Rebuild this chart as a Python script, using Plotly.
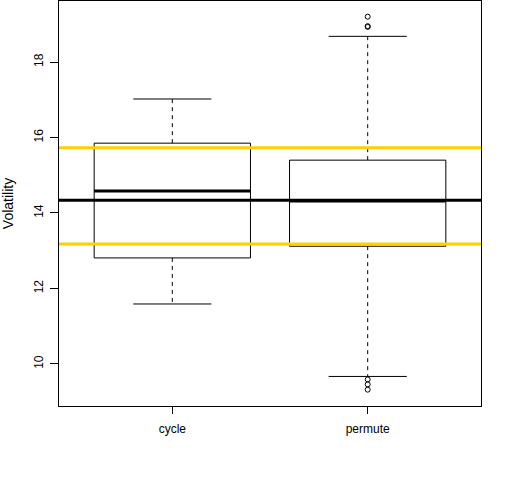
import plotly.graph_objects as go

categories = ["cycle", "permute"]
q1 = [12.81, 13.12]
median = [14.58, 14.32]
q3 = [15.85, 15.40]
lower_whisker = [11.59, 9.67]
upper_whisker = [17.02, 18.68]
outliers = [[], [19.20, 18.95, 18.93, 9.59, 9.46, 9.32]]
overall_mean = 14.34
band = [13.18, 15.73]

BOX_W = 0.8
CAP_W = 0.4
fig = go.Figure()
for i, cat in enumerate(categories):
    p = i + 1
    h = BOX_W / 2
    c = CAP_W / 2
    # box
    fig.add_trace(go.Scatter(x=[p - h, p + h, p + h, p - h, p - h],
                             y=[q1[i], q1[i], q3[i], q3[i], q1[i]],
                             mode="lines", line=dict(color="black", width=1),
                             showlegend=False, hoverinfo="skip"))
    # whiskers dashed
    fig.add_trace(go.Scatter(x=[p, p, None, p, p],
                             y=[q3[i], upper_whisker[i], None, q1[i], lower_whisker[i]],
                             mode="lines", line=dict(color="black", width=1, dash="4px,4px"),
                             showlegend=False, hoverinfo="skip"))
    # caps
    fig.add_trace(go.Scatter(x=[p - c, p + c, None, p - c, p + c],
                             y=[upper_whisker[i], upper_whisker[i], None, lower_whisker[i], lower_whisker[i]],
                             mode="lines", line=dict(color="black", width=1),
                             showlegend=False, hoverinfo="skip"))
    # median
    fig.add_trace(go.Scatter(x=[p - h, p + h], y=[median[i], median[i]],
                             mode="lines", line=dict(color="black", width=3),
                             showlegend=False, hoverinfo="skip"))
    if outliers[i]:
        fig.add_trace(go.Scatter(x=[p] * len(outliers[i]), y=outliers[i], mode="markers",
                                 marker=dict(symbol="circle-open", size=5, color="black",
                                             line=dict(width=1, color="black")),
                                 showlegend=False, hoverinfo="skip"))

fig.add_hline(y=overall_mean, line=dict(color="black", width=3))
for b in band:
    fig.add_hline(y=b, line=dict(color="#FFD000", width=3))

fig.update_layout(
    width=512, height=480,
    margin=dict(l=59, r=31, t=1, b=74),
    paper_bgcolor="white", plot_bgcolor="white",
    font=dict(family="Liberation Sans, Arial, sans-serif", size=12, color="black"),
)
fig.update_xaxes(range=[0.42, 2.58], tickvals=[1, 2], ticktext=categories,
                 showgrid=False, zeroline=False, showline=True, linecolor="black",
                 linewidth=1, mirror=True, ticks="outside", ticklen=7, tickcolor="black",
                 ticklabelstandoff=5)
fig.update_yaxes(range=[8.887, 19.616], tickvals=[10, 12, 14, 16, 18],
                 showgrid=False, zeroline=False, showline=True, linecolor="black",
                 linewidth=1, mirror=True, ticks="outside", ticklen=8, tickcolor="black",
                 tickangle=-90, ticklabelstandoff=2, title=dict(text="Volatility", standoff=16))

fig.write_html("out.html", config={"displayModeBar": False},
               post_script="document.body.style.margin='0';document.body.style.overflow='hidden';")
